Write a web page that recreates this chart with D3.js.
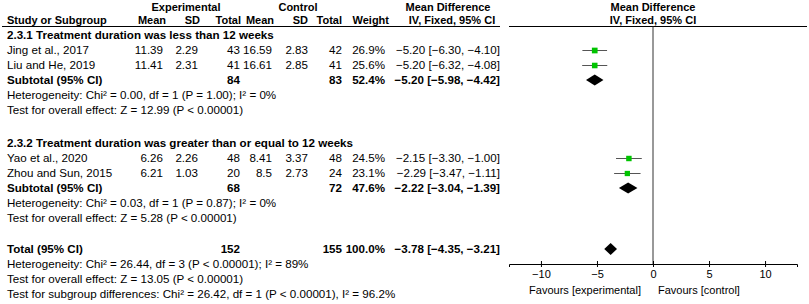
<!DOCTYPE html>
<html>
<head>
<meta charset="utf-8">
<script src="https://cdn.jsdelivr.net/npm/d3@7"></script>
<style>
  body { margin: 0; background: #fff; }
  text { font-family: "Liberation Sans", Arial, sans-serif; font-size: 11.6px; fill: #000; }
  .b { font-weight: bold; }
  .h { font-weight: bold; font-size: 11px; }
  .small { font-size: 11px; }
</style>
</head>
<body>
<div id="chart"></div>
<script>
const width = 809
const height = 304

// study level data
const studies = ['Jing et al., 2017', 'Liu and He, 2019', 'Yao et al., 2020', 'Zhou and Sun, 2015']
const studyGroup = [0, 0, 1, 1]
const expMean = ['11.39', '11.41', '6.26', '6.21']
const expSD = ['2.29', '2.31', '2.26', '1.03']
const expN = [43, 41, 48, 20]
const ctlMean = ['16.59', '16.61', '8.41', '8.5']
const ctlSD = ['2.83', '2.85', '3.37', '2.73']
const ctlN = [42, 41, 48, 24]
const weights = [26.9, 25.6, 24.5, 23.1]
const md = [-5.20, -5.20, -2.15, -2.29]
const ciLow = [-6.30, -6.32, -3.30, -3.47]
const ciHigh = [-4.10, -4.08, -1.00, -1.11]

// subgroups
const groupTitles = ['2.3.1 Treatment duration was less than 12 weeks', '2.3.2 Treatment duration was greater than or equal to 12 weeks']
const subExpN = [84, 68]
const subCtlN = [83, 72]
const subWeight = [52.4, 47.6]
const subMd = [-5.20, -2.22]
const subLow = [-5.98, -3.04]
const subHigh = [-4.42, -1.39]
const subHet = ['Heterogeneity: Chi² = 0.00, df = 1 (P = 1.00); I² = 0%', 'Heterogeneity: Chi² = 0.03, df = 1 (P = 0.87); I² = 0%']
const subEffect = ['Test for overall effect: Z = 12.99 (P < 0.00001)', 'Test for overall effect: Z = 5.28 (P < 0.00001)']

// overall
const totalExpN = 152
const totalCtlN = 155
const totalWeight = 100.0
const totalMd = -3.78
const totalLow = -4.35
const totalHigh = -3.21
const totalNotes = [
    'Heterogeneity: Chi² = 26.44, df = 3 (P < 0.00001); I² = 89%',
    'Test for overall effect: Z = 13.05 (P < 0.00001)',
    'Test for subgroup differences: Chi² = 26.42, df = 1 (P < 0.00001), I² = 96.2%'
]

const axisTicks = [-10, -5, 0, 5, 10]

let svg = d3.select('#chart').append('svg').attr('width', width).attr('height', height)

// columns (right edge of numbers)
const col = { study: 7, eMean: 163, eSD: 198, eN: 240, cMean: 272, cSD: 308, cN: 342, w: 385, ci: 500 }

// row scale: row index -> y center
let rowY = d3.scaleLinear().domain([0, 1]).range([5, 20])
let x = d3.scaleLinear().domain([-12.85, 12.85]).range([509, 797])
const axisY = 264
const topY = 7

function txt(xp, yp, s, anchor, cls) {
    return svg.append('text')
        .attr('x', xp).attr('y', yp).attr('dy', '0.35em')
        .attr('text-anchor', anchor || 'start')
        .attr('class', cls || null)
        .text(s)
}
const fmt2 = d3.format('.2f')
const ci = (m, l, h) => `${fmt2(m)} [${fmt2(l)}, ${fmt2(h)}]`
const pct = w => d3.format('.1f')(w) + '%'

// headers
txt(186, topY, 'Experimental', 'middle', 'h')
txt(298, topY, 'Control', 'middle', 'h')
txt(448, topY, 'Mean Difference', 'middle', 'h')
txt(x(0), topY, 'Mean Difference', 'middle', 'h')
txt(col.study, rowY(1), 'Study or Subgroup', 'start', 'h')
txt(col.eMean + 3, rowY(1), 'Mean', 'end', 'h')
txt(col.eSD + 2, rowY(1), 'SD', 'end', 'h')
txt(col.eN + 1, rowY(1), 'Total', 'end', 'h')
txt(col.cMean + 2, rowY(1), 'Mean', 'end', 'h')
txt(col.cSD, rowY(1), 'SD', 'end', 'h')
txt(col.cN, rowY(1), 'Total', 'end', 'h')
txt(col.w + 4, rowY(1), 'Weight', 'end', 'h')
txt(452, rowY(1), 'IV, Fixed, 95% CI', 'middle', 'h')
txt(x(0), rowY(1), 'IV, Fixed, 95% CI', 'middle', 'h')

svg.append('line').attr('x1', 2).attr('x2', 500).attr('y1', 26.5).attr('y2', 26.5).attr('stroke', '#000')
svg.append('line').attr('x1', 509).attr('x2', 807).attr('y1', 26.5).attr('y2', 26.5).attr('stroke', '#000')

// zero line
svg.append('line').attr('x1', x(0)).attr('x2', x(0)).attr('y1', 26.5).attr('y2', axisY)
    .attr('stroke', '#333')

let plotGroup = svg.append('g').attr('id', 'plotGroup')

const groupStart = [2, 9.2]
groupTitles.forEach((title, g) => {
    let r = groupStart[g]
    txt(col.study, rowY(r), title, 'start', 'b')
    studies.forEach((s, i) => {
        if (studyGroup[i] !== g) return
        r += 1
        let yy = rowY(r)
        txt(col.study, yy, s)
        txt(col.eMean, yy, expMean[i], 'end')
        txt(col.eSD, yy, expSD[i], 'end')
        txt(col.eN, yy, expN[i], 'end')
        txt(col.cMean, yy, ctlMean[i], 'end')
        txt(col.cSD, yy, ctlSD[i], 'end')
        txt(col.cN, yy, ctlN[i], 'end')
        txt(col.w, yy, pct(weights[i]), 'end')
        txt(col.ci, yy, ci(md[i], ciLow[i], ciHigh[i]), 'end')
        plotGroup.append('line')
            .attr('x1', x(ciLow[i])).attr('x2', x(ciHigh[i]))
            .attr('y1', yy + 0.5).attr('y2', yy + 0.5)
            .attr('stroke', '#555')
        let sz = Math.sqrt(weights[i]) * 1.1
        plotGroup.append('rect')
            .attr('x', x(md[i]) - sz / 2).attr('y', yy - sz / 2 + 0.5)
            .attr('width', sz).attr('height', sz)
            .attr('fill', '#00c400')
    })
    r += 1
    let ys = rowY(r)
    txt(col.study, ys, 'Subtotal (95% CI)', 'start', 'b')
    txt(col.eN, ys, subExpN[g], 'end', 'b')
    txt(col.cN, ys, subCtlN[g], 'end', 'b')
    txt(col.w, ys, pct(subWeight[g]), 'end', 'b')
    txt(col.ci, ys, ci(subMd[g], subLow[g], subHigh[g]), 'end', 'b')
    drawDiamond(subMd[g], subLow[g], subHigh[g], ys, 5.5)
    txt(col.study, rowY(r + 1), subHet[g])
    txt(col.study, rowY(r + 2), subEffect[g])
})

function drawDiamond(m, l, h, yy, hh) {
    let pts = [[x(l), yy], [x(m), yy - hh], [x(h), yy], [x(m), yy + hh]]
    plotGroup.append('path')
        .attr('d', d3.line()(pts) + 'Z')
        .attr('fill', '#000')
}

// total
const totalRow = 16.27
let yt = rowY(totalRow)
txt(col.study, yt, 'Total (95% CI)', 'start', 'b')
txt(col.eN, yt, totalExpN, 'end', 'b')
txt(col.cN, yt, totalCtlN, 'end', 'b')
txt(col.w, yt, pct(totalWeight), 'end', 'b')
txt(col.ci, yt, ci(totalMd, totalLow, totalHigh), 'end', 'b')
drawDiamond(totalMd, totalLow, totalHigh, yt, 6)
totalNotes.forEach((n, k) => txt(col.study, rowY(totalRow + 1 + k), n))

// axis
let xAxis = d3.axisBottom(x).tickValues(axisTicks).tickSizeOuter(0).tickSize(3)
let xAxisGroup = svg.append('g').attr('id', 'xAxisGroup')
    .attr('transform', `translate(0, ${axisY})`)
    .call(xAxis)
xAxisGroup.select('.domain').attr('stroke', '#000')
xAxisGroup.selectAll('.tick line').attr('y1', -3).attr('y2', 3).attr('stroke', '#000')
xAxisGroup.selectAll('.tick text')
    .attr('y', 10).attr('dy', '0.35em')
    .style('font-family', '"Liberation Sans", Arial, sans-serif').style('font-size', '11px')

txt(x(0) - 12, 290, 'Favours [experimental]', 'end', 'small')
txt(x(0) + 5, 290, 'Favours [control]', 'start', 'small')
</script>
</body>
</html>
